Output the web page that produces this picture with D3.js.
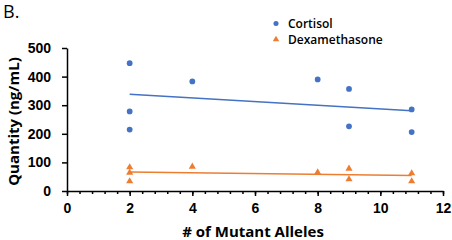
<!DOCTYPE html>
<html>
<head>
<meta charset="utf-8">
<script src="https://cdn.jsdelivr.net/npm/d3@7"></script>
<style>
  body { margin: 0; background: #fff; }
  svg { display: block; font-family: "Open Sans", sans-serif; }
  .tick text { font-weight: 700; font-size: 14px; fill: #000; }
  .axis path, .axis line { stroke: #000; stroke-width: 1.5px; }
</style>
</head>
<body>
<div id="chart"></div>
<script>
// data
const cortisolX = [2, 2, 2, 4, 8, 9, 9, 11, 11];
const cortisolY = [447, 278, 215, 383, 390, 357, 226, 285, 206];
const dexaX = [2, 2, 2, 4, 8, 9, 9, 11, 11];
const dexaY = [83, 64, 34, 85, 65, 78, 41, 62, 34];
const xTicks = [0, 2, 4, 6, 8, 10, 12];
const yTicks = [0, 100, 200, 300, 400, 500];

const W = 452, H = 240;
const margin = { top: 48, right: 9, bottom: 49, left: 67 };

const svg = d3.select("#chart").append("svg")
    .attr("width", W)
    .attr("height", H);

const x = d3.scaleLinear().domain([0, 12]).range([margin.left, W - margin.right]);
const y = d3.scaleLinear().domain([0, 500]).range([H - margin.bottom, margin.top]);

// minor ticks on x
svg.append("g")
    .attr("class", "axis")
    .attr("transform", `translate(0, ${y(0)})`)
    .call(d3.axisBottom(x).tickValues(d3.range(0, 12.01, 0.4)).tickSize(3).tickFormat(""))
    .call(g => g.select(".domain").remove());

svg.append("g")
    .attr("class", "axis")
    .attr("transform", `translate(0, ${y(0)})`)
    .call(d3.axisBottom(x).tickValues(xTicks).tickSize(5).tickSizeOuter(0).tickPadding(7));

svg.append("g")
    .attr("class", "axis")
    .attr("transform", `translate(${x(0)}, 0)`)
    .call(d3.axisLeft(y).tickValues(yTicks).tickSize(5).tickSizeOuter(0).tickPadding(11));

// least squares trendline
const fit = (xs, ys) => {
    const mx = d3.mean(xs), my = d3.mean(ys);
    const sxy = d3.sum(xs, (v, i) => (v - mx) * (ys[i] - my));
    const sxx = d3.sum(xs, v => (v - mx) * (v - mx));
    const b = sxy / sxx;
    return v => my + b * (v - mx);
};

const series = [
    { name: "Cortisol", xs: cortisolX, ys: cortisolY, color: "#4472C4", shape: d3.symbolCircle },
    { name: "Dexamethasone", xs: dexaX, ys: dexaY, color: "#ED7D31", shape: d3.symbolTriangle }
];

series.forEach(s => {
    const f = fit(s.xs, s.ys);
    const x0 = d3.min(s.xs), x1 = d3.max(s.xs);
    svg.append("line")
        .attr("x1", x(x0)).attr("y1", y(f(x0)))
        .attr("x2", x(x1)).attr("y2", y(f(x1)))
        .attr("stroke", s.color)
        .attr("stroke-width", 1.5);

    svg.append("g").selectAll("path")
        .data(s.xs.map((v, i) => [v, s.ys[i]]))
        .join("path")
        .attr("d", d3.symbol().type(s.shape).size(s.shape === d3.symbolCircle ? 26 : 22))
        .attr("transform", d => `translate(${x(d[0])}, ${y(d[1])})`)
        .attr("fill", s.color);
});

// legend
const legend = svg.append("g").attr("transform", "translate(276, 23.5)");
series.forEach((s, i) => {
    legend.append("path")
        .attr("d", d3.symbol().type(s.shape).size(s.shape === d3.symbolCircle ? 20 : 18))
        .attr("transform", `translate(0, ${i * 16})`)
        .attr("fill", s.color);
    legend.append("text")
        .attr("x", 12)
        .attr("y", i * 16)
        .attr("dy", "0.35em")
        .attr("font-size", 12)
        .attr("font-weight", 600)
        .text(s.name);
});

// titles
svg.append("text")
    .attr("x", 3).attr("y", 18)
    .attr("font-size", 18)
    .text("B.");

svg.append("text")
    .attr("x", x(6) - 2).attr("y", 237)
    .attr("text-anchor", "middle")
    .attr("font-size", 15)
    .attr("font-weight", 700)
    .text("# of Mutant Alleles");

svg.append("text")
    .attr("transform", `translate(19, ${(y(0) + y(500)) / 2 + 2}) rotate(-90)`)
    .attr("text-anchor", "middle")
    .attr("font-size", 15)
    .attr("font-weight", 700)
    .text("Quantity (ng/mL)");
</script>
</body>
</html>
